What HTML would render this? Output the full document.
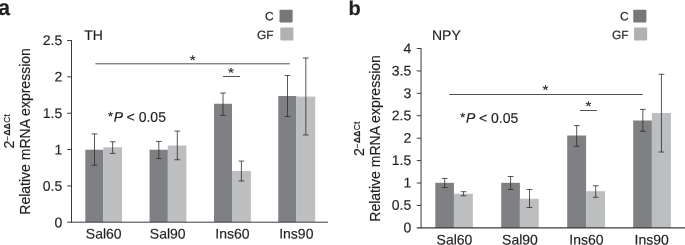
<!DOCTYPE html>
<html lang="en"><head><meta charset="utf-8"><title>Relative mRNA expression: TH and NPY</title>
<style>
html,body{margin:0;padding:0;background:#fff;}
body{width:685px;height:245px;overflow:hidden;}
svg{display:block;will-change:transform;font-family:"Liberation Sans",Arial,Helvetica,sans-serif;}
text{fill:#231f20;font-size:14px;stroke:#231f20;stroke-width:0.18px;}
.lab{font-weight:bold;font-size:20px;}
.sup{font-size:8.5px;letter-spacing:0.25px;}
.leg{font-size:12px;}
.star{font-size:13px;stroke:#231f20;stroke-width:0.15px;}
.ax{stroke:#3a3a3c;stroke-width:1;fill:none;}
.sig{stroke:#525254;stroke-width:1;fill:none;}
.err{stroke:#2e2c2d;stroke-width:0.8;fill:none;}
.d{fill:#7f8084;}
.l{fill:#bcbec0;}
</style></head><body>
<svg width="685" height="245" viewBox="0 0 685 245">
<rect x="0" y="0" width="685" height="245" fill="#ffffff"/>
<g>
<text class="lab" style="font-size:22px" transform="translate(-1.7 14.9) rotate(0.03) scale(0.96 1)">a</text>
<text transform="translate(84.2 40) rotate(0.03)">TH</text>
<text class="leg" transform="translate(273.7 20.35) rotate(0.03)" text-anchor="end">C</text>
<text class="leg" transform="translate(273.7 39.05) rotate(0.03)" text-anchor="end">GF</text>
<rect fill="#76777b" x="279.5" y="9.7" width="13.15" height="12.7" rx="0.8"/>
<rect fill="#afb1b4" x="280.3" y="27.6" width="13.1" height="12.8" rx="0.8"/>
<rect class="d" x="85.3" y="149.75" width="18.1" height="72.25"/>
<rect class="l" x="103.4" y="147.25" width="18.6" height="74.75"/>
<rect class="d" x="149.55" y="149.75" width="18.3" height="72.25"/>
<rect class="l" x="167.85" y="145.5" width="18.5" height="76.5"/>
<rect class="d" x="214" y="103.75" width="18" height="118.25"/>
<rect class="l" x="232" y="171" width="18.85" height="51"/>
<rect class="d" x="278.25" y="96" width="18.2" height="126"/>
<rect class="l" x="296.45" y="96.6" width="18.75" height="125.4"/>
<path class="err" d="M91.65 133.9H97.35M94.5 133.9V165.25M91.65 165.25H97.35M109.8 141.8H115.5M112.65 141.8V153.4M109.8 153.4H115.5M155.95 141.4H161.65M158.8 141.4V158.5M155.95 158.5H161.65M174.45 131.1H180.15M177.3 131.1V159.75M174.45 159.75H180.15M220.15 93H225.85M223 93V115.4M220.15 115.4H225.85M238.55 161.1H244.25M241.4 161.1V181M238.55 181H244.25M284.65 75.5H290.35M287.5 75.5V116.5M284.65 116.5H290.35M302.95 58H308.65M305.8 58V135M302.95 135H308.65"/>
<path class="ax" style="stroke-width:1" d="M67.2 222.2H328"/>
<path class="ax" d="M71.5 40V222.7M67.2 40.5H71.5M67.2 76.86H71.5M67.2 113.22H71.5M67.2 149.58H71.5M67.2 185.94H71.5"/>
<text transform="translate(62.2 45.05) rotate(0.03)" text-anchor="end">2.5</text>
<text transform="translate(62.2 81.5) rotate(0.03)" text-anchor="end">2</text>
<text transform="translate(62.2 117.95) rotate(0.03)" text-anchor="end">1.5</text>
<text transform="translate(62.2 154.4) rotate(0.03)" text-anchor="end">1</text>
<text transform="translate(62.2 190.85) rotate(0.03)" text-anchor="end">0.5</text>
<text transform="translate(62.2 227.2) rotate(0.03)" text-anchor="end">0</text>
<text transform="translate(103.75 238.5) rotate(0.03)" text-anchor="middle">Sal60</text>
<text transform="translate(167.7 238.5) rotate(0.03)" text-anchor="middle">Sal90</text>
<text transform="translate(232.4 238.5) rotate(0.03)" text-anchor="middle">Ins60</text>
<text transform="translate(296.3 238.5) rotate(0.03)" text-anchor="middle">Ins90</text>
<text transform="translate(30 214.7) rotate(-90)">Relative mRNA expression</text>
<text transform="translate(13.5 148.5) rotate(-90)">2<tspan class="sup" dy="-3.6">−<tspan font-weight="bold">ΔΔ</tspan>Ct</tspan></text>
<path class="sig" d="M95.4 63.8H289.7M223 76.5H240"/>
<text class="star" transform="translate(192.7 64.4) rotate(0.03) scale(1.16 1)" text-anchor="middle">*</text>
<text class="star" transform="translate(231 77.1) rotate(0.03) scale(1.16 1)" text-anchor="middle">*</text>
<text transform="translate(107.7 121.8) rotate(0.03)"><tspan font-size="12.5" dx="0.3" dy="-1.2">*</tspan><tspan dx="0.8" dy="1.2" font-style="italic">P</tspan><tspan dx="-0.3"> &lt; 0.05</tspan></text>
</g>
<g>
<text class="lab" transform="translate(348.5 15) rotate(0.03)">b</text>
<text transform="translate(432 40) rotate(0.03)">NPY</text>
<text class="leg" transform="translate(628.7 20.35) rotate(0.03)" text-anchor="end">C</text>
<text class="leg" transform="translate(628.7 39.05) rotate(0.03)" text-anchor="end">GF</text>
<rect fill="#76777b" x="633.25" y="9.7" width="13.15" height="12.7" rx="0.8"/>
<rect fill="#afb1b4" x="634.05" y="27.6" width="13.1" height="12.8" rx="0.8"/>
<rect class="d" x="435.3" y="182.8" width="18.65" height="45.2"/>
<rect class="l" x="453.95" y="193.75" width="18.95" height="34.25"/>
<rect class="d" x="501.2" y="182.8" width="18.7" height="45.2"/>
<rect class="l" x="519.9" y="198.75" width="18.85" height="29.25"/>
<rect class="d" x="567.2" y="135.5" width="18.9" height="92.5"/>
<rect class="l" x="586.1" y="191.2" width="18.9" height="36.8"/>
<rect class="d" x="633.2" y="120.5" width="18.7" height="107.5"/>
<rect class="l" x="651.9" y="113" width="19" height="115"/>
<path class="err" d="M441.8 178.4H447.5M444.65 178.4V187.5M441.8 187.5H447.5M460.7 191.7H466.4M463.55 191.7V195.8M460.7 195.8H466.4M507.75 176.5H513.45M510.6 176.5V189.5M507.75 189.5H513.45M526.65 189.5H532.35M529.5 189.5V207.5M526.65 207.5H532.35M573.85 125.55H579.55M576.7 125.55V146.25M573.85 146.25H579.55M592.85 185.8H598.55M595.7 185.8V197.25M592.85 197.25H598.55M640 109.4H645.7M642.85 109.4V131.25M640 131.25H645.7M658.6 74.3H664.3M661.45 74.3V152M658.6 152H664.3"/>
<path class="ax" style="stroke-width:1.25" d="M416.75 227.85H686"/>
<path class="ax" d="M421.05 48V228.35M416.75 48.5H421.05M416.75 70.92H421.05M416.75 93.34H421.05M416.75 115.76H421.05M416.75 138.18H421.05M416.75 160.59H421.05M416.75 183.01H421.05M416.75 205.43H421.05"/>
<text transform="translate(411.2 53.2) rotate(0.03)" text-anchor="end">4</text>
<text transform="translate(411.2 75.57) rotate(0.03)" text-anchor="end">3.5</text>
<text transform="translate(411.2 97.94) rotate(0.03)" text-anchor="end">3</text>
<text transform="translate(411.2 120.31) rotate(0.03)" text-anchor="end">2.5</text>
<text transform="translate(411.2 142.68) rotate(0.03)" text-anchor="end">2</text>
<text transform="translate(411.2 165.04) rotate(0.03)" text-anchor="end">1.5</text>
<text transform="translate(411.2 187.41) rotate(0.03)" text-anchor="end">1</text>
<text transform="translate(411.2 209.78) rotate(0.03)" text-anchor="end">0.5</text>
<text transform="translate(411.2 232.15) rotate(0.03)" text-anchor="end">0</text>
<text transform="translate(454.5 244.5) rotate(0.03)" text-anchor="middle">Sal60</text>
<text transform="translate(520 244.5) rotate(0.03)" text-anchor="middle">Sal90</text>
<text transform="translate(586.4 244.5) rotate(0.03)" text-anchor="middle">Ins60</text>
<text transform="translate(651.7 244.5) rotate(0.03)" text-anchor="middle">Ins90</text>
<text transform="translate(379.8 221.7) rotate(-90)">Relative mRNA expression</text>
<text transform="translate(363.5 156) rotate(-90)">2<tspan class="sup" dy="-3.6">−<tspan font-weight="bold">ΔΔ</tspan>Ct</tspan></text>
<path class="sig" d="M449.25 94.5H642.75M580 110.5H597"/>
<text class="star" transform="translate(545.4 94.3) rotate(0.03) scale(1.16 1)" text-anchor="middle">*</text>
<text class="star" transform="translate(588.5 110.4) rotate(0.03) scale(1.16 1)" text-anchor="middle">*</text>
<text transform="translate(460 122.8) rotate(0.03)"><tspan font-size="12.5" dx="0.3" dy="-1.2">*</tspan><tspan dx="0.8" dy="1.2" font-style="italic">P</tspan><tspan dx="-0.3"> &lt; 0.05</tspan></text>
</g>
</svg>
</body></html>
